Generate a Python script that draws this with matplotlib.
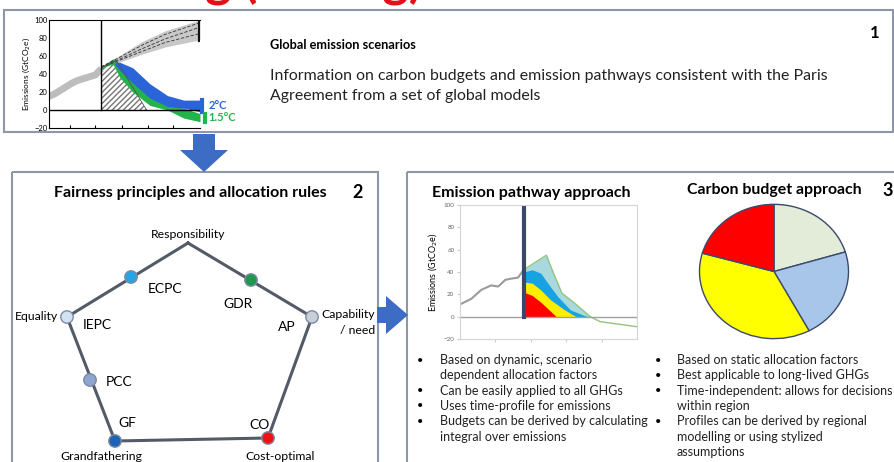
import matplotlib.pyplot as plt
from matplotlib.patches import Rectangle, Polygon

plt.rcParams['font.family'] = ['Lato', 'DejaVu Sans']

# panel 1: global emission scenarios
hist_years = [1970, 1975, 1980, 1985, 1990, 1995, 2000, 2005, 2010, 2015]
hist_vals = [15, 18, 22, 26, 30, 33, 35, 37, 39, 46]
base_years = [2015, 2030, 2050, 2070, 2100]
base_lo = [47, 53, 62, 70, 78]
base_hi = [49, 60, 76, 88, 100]
base_a = [48, 56, 68, 79, 92]
base_b = [48, 58, 72, 84, 97]
base_c = [47, 55, 65, 75, 85]
budget_years = [2015, 2028, 2054]
budget_vals = [47, 55, 0]
green_years = [2015, 2020, 2025, 2031, 2042, 2057, 2072, 2086, 2100]
green_hi = [47, 52, 57, 51, 35, 16, 9, 2, -4]
green_lo = [45, 49, 51, 36, 20, 5, 0, -9, -13]
blue_years = [2027, 2031, 2042, 2057, 2072, 2086, 2100]
blue_hi = [53, 53, 47, 29, 16, 11, 11]
blue_lo = [50, 44, 30, 13, 4, 2, -2]

# panel 3: emission pathway approach
path_hist_years = [1975, 1983, 1990, 1997, 2002, 2007, 2011, 2016, 2020]
path_hist_vals = [11, 16, 24, 28, 27, 33, 34, 35, 42]
env_years = [2020, 2036, 2041, 2047, 2056, 2067]
env_vals = [42, 55, 39, 21, 12, 0]
tail_years = [2067, 2074, 2100]
tail_vals = [0, -4.5, -9]
share_blue_years = [2020, 2026, 2032, 2037, 2044, 2053, 2065]
share_blue = [40, 42, 39, 30, 18, 6, 0]
share_yellow_years = [2020, 2026, 2032, 2039, 2049, 2057]
share_yellow = [31, 30, 24, 15, 6, 0]
share_red_years = [2020, 2026, 2032, 2038, 2043]
share_red = [22, 19, 13, 6, 0]

# panel 3: carbon budget approach
pie_shares = [20.3, 21.9, 37.2, 20.6]
pie_colors = ['#e3ecd9', '#a7c6e9', '#ffff00', '#ff0000']

yticks = [-20, 0, 20, 40, 60, 80, 100]

W, H = 894, 462
fig = plt.figure(figsize=(W / 100, H / 100), dpi=100)
ax = fig.add_axes([0, 0, 1, 1])
ax.set_xlim(0, W)
ax.set_ylim(H, 0)
ax.axis('off')


def inset(x0, y0, x1, y1):
    return fig.add_axes([x0 / W, 1 - y1 / H, (x1 - x0) / W, (y1 - y0) / H])


box_col = '#8d97a8'
ax.add_patch(Rectangle((4, 10), 889, 122, fill=False, ec=box_col, lw=1.5))
ax.add_patch(Rectangle((12, 172), 366, 300, fill=False, ec=box_col, lw=1.5))
ax.add_patch(Rectangle((407, 172), 500, 300, fill=False, ec=box_col, lw=1.5))

arrow_col = '#3d6cc4'
ax.add_patch(Polygon([(193, 134), (215, 134), (215, 150), (228, 150), (204, 172),
                      (180, 150), (193, 150)], closed=True, fc=arrow_col, ec='none'))
ax.add_patch(Polygon([(377, 307), (386, 307), (386, 296), (408, 315), (386, 334),
                      (386, 323), (377, 323)], closed=True, fc=arrow_col, ec='none'))

# slide title, only its descenders reach into the picture
fig.text(-0.08, 1.008, 'Effort sharing (Timing)', color='#e3101a', fontsize=36,
         fontweight='bold', va='baseline', ha='left')

# ---------- box 1 ----------
a1 = inset(49, 20, 200, 128)
a1.fill_between(base_years, base_lo, base_hi, color='#c8c8c8', lw=0)
for b in (base_a, base_b, base_c):
    a1.plot(base_years, b, color='#333333', lw=0.6, ls=(0, (4, 2)))
a1.plot([2100, 2100], [base_lo[-1], base_hi[-1]], color='#111111', lw=3)
a1.fill_between(budget_years, budget_vals, 0, facecolor='white', edgecolor='#777777',
                hatch='//////', lw=0)
a1.plot(budget_years, budget_vals, color='#555555', lw=0.6)
a1.plot(hist_years, hist_vals, color='#bdbdbd', lw=5, solid_capstyle='butt')
a1.fill_between(green_years, green_lo, green_hi, color='#22b34a', lw=0)
a1.fill_between(blue_years, blue_lo, blue_hi, color='#2a64d8', lw=0)
a1.plot([2101.5, 2101.5], [blue_lo[-1], blue_hi[-1]], color='#2a64d8', lw=3, clip_on=False)
a1.plot([2104, 2104], [green_lo[-1], green_hi[-1]], color='#22b34a', lw=3, clip_on=False)
a1.axhline(0, color='black', lw=1)
a1.plot([2015, 2015], [0, 100], color='black', lw=1)
a1.text(2107, 5, '2°C', color='#2a64d8', fontsize=8, fontweight='bold', va='center')
a1.text(2107, -8, '1.5°C', color='#22b34a', fontsize=8, fontweight='bold', va='center')
a1.set_xlim(1970, 2100)
a1.set_ylim(-20, 100)
a1.set_yticks(yticks)
a1.set_xticks([1988, 2010, 2033, 2055, 2077])
a1.set_xticklabels([])
a1.tick_params(axis='y', labelsize=5.5, length=0, pad=1)
a1.tick_params(axis='x', direction='in', length=2)
a1.spines['right'].set_visible(False)
for s in a1.spines.values():
    s.set_linewidth(0.8)
a1.set_ylabel(r'Emissions (GtCO$_2$e)', fontsize=6, labelpad=2)

ax.text(270, 45, 'Global emission scenarios', fontsize=9.2, fontweight='bold', va='center')
ax.text(270, 76, 'Information on carbon budgets and emission pathways consistent with the Paris',
        fontsize=11.4, va='center', color='#222222')
ax.text(270, 96, 'Agreement from a set of global models', fontsize=11.4, va='center',
        color='#222222')
ax.text(875, 33, '1', fontsize=12, fontweight='bold', va='center', ha='center')

# ---------- box 2 ----------
ax.text(190, 193, 'Fairness principles and allocation rules', fontsize=11.5,
        fontweight='bold', va='center', ha='center')
ax.text(358, 193, '2', fontsize=13, fontweight='bold', va='center', ha='center')

penta_x = [188, 312, 268, 115, 67, 188]
penta_y = [243, 317, 438, 441, 317, 243]
ax.plot(penta_x, penta_y, color='#535a68', lw=2.2, solid_joinstyle='miter', zorder=2)

node_x = [131, 251, 312, 67, 90, 115, 268]
node_y = [277, 280, 317, 317, 380, 441, 438]
node_c = ['#27a4e3', '#1e9a4e', '#c9ced9', '#d3e2f3', '#8ea6d2', '#1f63b6', '#ee1313']
ax.scatter(node_x, node_y, s=80, c=node_c, edgecolors='#7d8aa3', linewidths=1, zorder=3)

small = 8.8
big = 10
ax.text(188, 235, 'Responsibility', fontsize=small, ha='center', va='center')
ax.text(148, 289, 'ECPC', fontsize=big, va='center')
ax.text(223, 304, 'GDR', fontsize=big, va='center')
ax.text(58, 317, 'Equality', fontsize=small, ha='right', va='center')
ax.text(83, 325, 'IEPC', fontsize=big, va='center')
ax.text(321, 314, 'Capability', fontsize=small, va='center')
ax.text(375, 331, '/ need', fontsize=small, ha='right', va='center')
ax.text(278, 327, 'AP', fontsize=big, va='center')
ax.text(106, 382, 'PCC', fontsize=big, va='center')
ax.text(118, 423, 'GF', fontsize=big, va='center')
ax.text(249, 425, 'CO', fontsize=big, va='center')
ax.text(101, 456, 'Grandfathering', fontsize=small, ha='center', va='center')
ax.text(280, 456, 'Cost-optimal', fontsize=small, ha='center', va='center')

# ---------- box 3 ----------
ax.text(531, 193, 'Emission pathway approach', fontsize=11.5, fontweight='bold',
        ha='center', va='center')
ax.text(774, 190, 'Carbon budget approach', fontsize=11.4, fontweight='bold',
        ha='center', va='center')
ax.text(888, 190, '3', fontsize=13, fontweight='bold', ha='center', va='center')

a2 = inset(460, 205, 637, 339)
a2.fill_between(env_years, env_vals, 0, color='#a9d9df', lw=0)
a2.plot(env_years, env_vals, color='#93c47d', lw=1)
a2.plot(tail_years, tail_vals, color='#93c47d', lw=1)
a2.fill_between(share_blue_years, share_blue, 0, color='#17a2e2', lw=0)
a2.fill_between(share_yellow_years, share_yellow, 0, color='#ffee00', lw=0)
a2.fill_between(share_red_years, share_red, 0, color='#ff0000', lw=0)
a2.plot(path_hist_years, path_hist_vals, color='#9a9a9a', lw=1.5)
a2.axhline(0, color='#a0a0a0', lw=1)
a2.plot([2020, 2020], [0, 100], color='#3c4966', lw=3)
a2.set_xlim(1975, 2100)
a2.set_ylim(-20, 100)
a2.set_yticks(yticks)
a2.set_xticks([2000, 2025, 2050, 2075])
a2.set_xticklabels([])
a2.tick_params(axis='y', labelsize=4.5, labelcolor='#666666', length=2, color='#cccccc', pad=2)
a2.tick_params(axis='x', length=2, color='#cccccc')
for s in a2.spines.values():
    s.set_color('#d4d4d4')
    s.set_linewidth(0.8)
a2.set_ylabel(r'Emissions (GtCO$_2$e)', fontsize=6.5, labelpad=3)

a3 = inset(698, 203, 850, 340)
a3.pie(pie_shares, colors=pie_colors, startangle=90, counterclock=False,
       wedgeprops=dict(edgecolor='#3b4a6b', linewidth=1))
a3.set_aspect('auto')
a3.set_xlim(-1.02, 1.02)
a3.set_ylim(-1.02, 1.02)

left_items = ['Based on dynamic, scenario\ndependent allocation factors',
              'Can be easily applied to all GHGs',
              'Uses time-profile for emissions',
              'Budgets can be derived by calculating\nintegral over emissions']
right_items = ['Based on static allocation factors',
               'Best applicable to long-lived GHGs',
               'Time-independent: allows for decisions\nwithin region',
               'Profiles can be derived by regional\nmodelling or using stylized\nassumptions']

line_h = 15.3
for items, bx, tx in ((left_items, 420, 440), (right_items, 658, 677)):
    y = 360
    for it in items:
        ax.text(bx, y, '•', fontsize=8, va='center', ha='center')
        for ln in it.split('\n'):
            ax.text(tx, y, ln, fontsize=9, va='center', color='#222222')
            y += line_h

fig.savefig('out.png', dpi=100)
